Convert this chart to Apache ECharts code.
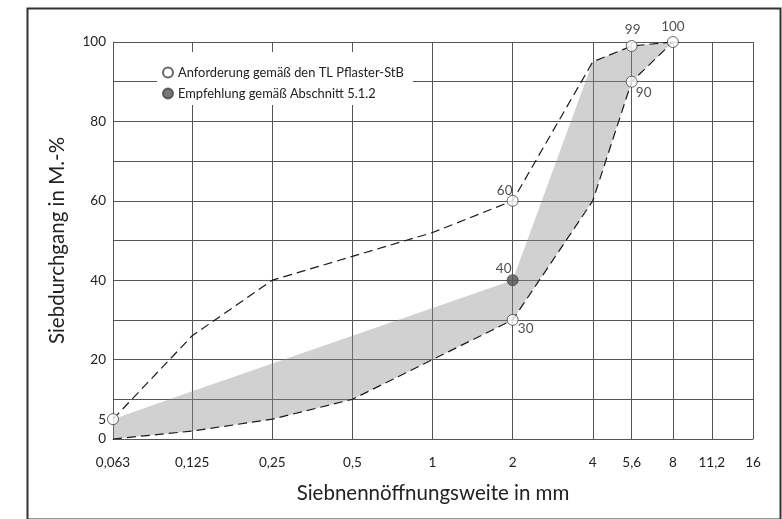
<!DOCTYPE html>
<html><head><meta charset="utf-8">
<script src="https://cdn.jsdelivr.net/npm/echarts@6/dist/echarts.min.js"></script>
<style>html,body{margin:0;padding:0;background:#fff}#c{width:782px;height:519px}</style>
</head><body><div id="c"></div>
<script>
// ---- data ----
const sieveSizes   = [0.063, 0.125, 0.25, 0.5, 1, 2, 4, 5.6, 8];
const xTickValues  = [0.063, 0.125, 0.25, 0.5, 1, 2, 4, 5.6, 8, 11.2, 16];
const xTickLabels  = ['0,063','0,125','0,25','0,5','1','2','4','5,6','8','11,2','16'];
const yTickLabels  = [0, 5, 20, 40, 60, 80, 100];
const upperLimit   = [5, 26, 40, 46, 52, 60, 95, 99, 100];
const lowerLimit   = [0, 2, 5, 10, 20, 30, 60, 90, 100];
const bandUpper    = [5, 12, 19, 26, 33, 40, 95, 99, 100];
const reqSizes     = [0.063, 2, 2, 5.6, 5.6, 8];
const reqValues    = [5, 60, 30, 99, 90, 100];
const recSizes     = [2];
const recValues    = [40];
const reqName = 'Anforderung gemäß den TL Pflaster-StB';
const recName = 'Empfehlung gemäß Abschnitt 5.1.2';

// ---- styling (label placement per point index) ----
const reqLabelOffset = [null, [-8,-10], [13,9], [1,-16], [12,11], [0,-15]];
const recLabelOffset = [[-9,-12]];

const FONT = 'Lato, "Open Sans", sans-serif';
const GRID = '#555';
const zip = (xs, ys) => xs.map((x, i) => [x, ys[i]]);

const chart = echarts.init(document.getElementById('c'), null, {renderer: 'canvas'});
const pointData = (xs, ys, offs) => xs.map((x, i) => ({
  value: [x, ys[i]],
  label: offs[i] ? {show: true, position: 'inside', offset: offs[i], formatter: String(ys[i])} : {show: false}
}));

// band polygon: recommended upper edge forward, lower limit backward
const bandPoints = zip(sieveSizes, bandUpper).concat(zip(sieveSizes, lowerLimit).reverse());

chart.setOption({
  animation: false,
  backgroundColor: '#fff',
  textStyle: {fontFamily: FONT},
  grid: {left: 113, right: 29, top: 42, bottom: 80},
  graphic: [{
    type: 'rect', left: 25, top: 6, z: -10,
    shape: {width: 753, height: 511},
    style: {fill: 'none', stroke: '#333', lineWidth: 2}
  }],
  legend: {
    left: 157, top: 52, orient: 'vertical',
    backgroundColor: '#fff', padding: [14, 9, 5, 5],
    itemWidth: 10, itemHeight: 10, itemGap: 8,
    textStyle: {fontFamily: FONT, fontSize: 12.9, color: '#222'},
    data: [{name: reqName, icon: 'circle'}, {name: recName, icon: 'circle'}]
  },
  xAxis: {
    type: 'log', logBase: 2, min: 0.063, max: 16,
    name: 'Siebnennöffnungsweite in mm', nameLocation: 'middle', nameGap: 44,
    nameTextStyle: {fontFamily: FONT, fontSize: 20.5, color: '#222'},
    axisLine: {show: true, lineStyle: {color: GRID, width: 1}},
    axisTick: {show: false, customValues: xTickValues},
    axisLabel: {
      customValues: xTickValues, margin: 17,
      fontFamily: FONT, fontSize: 13.5, color: '#222',
      formatter: v => { const i = xTickValues.findIndex(t => Math.abs(t - v) < 1e-6); return i >= 0 ? xTickLabels[i] : ''; }
    },
    splitLine: {show: true, lineStyle: {color: GRID, width: 1}}
  },
  yAxis: {
    type: 'value', min: 0, max: 100, interval: 10,
    name: 'Siebdurchgang in M.-%', nameLocation: 'middle', nameGap: 45,
    nameTextStyle: {fontFamily: FONT, fontSize: 20.5, color: '#222'},
    axisLine: {show: true, lineStyle: {color: GRID, width: 1}},
    axisTick: {show: false},
    axisLabel: {customValues: yTickLabels, margin: 7, fontFamily: FONT, fontSize: 13.5, color: '#222'},
    splitLine: {show: true, lineStyle: {color: GRID, width: 1}}
  },
  series: [
    {
      name: 'band', type: 'custom', silent: true, z: 1,
      data: [0],
      renderItem: (params, api) => ({
        type: 'polygon',
        shape: {points: bandPoints.map(p => api.coord(p))},
        style: {fill: 'rgba(140,140,140,0.4)', stroke: 'none'}
      })
    },
    {
      name: 'upperLimit', type: 'line', symbol: 'none', silent: true,
      data: zip(sieveSizes, upperLimit),
      lineStyle: {color: '#1a1a1a', width: 1.2, type: [9, 5]}, z: 2
    },
    {
      name: 'lowerLimit', type: 'line', symbol: 'none', silent: true,
      data: zip(sieveSizes, lowerLimit),
      lineStyle: {color: '#1a1a1a', width: 1.2, type: [9, 5]}, z: 2
    },
    {
      name: reqName, type: 'scatter', symbol: 'circle', symbolSize: 11, z: 5,
      itemStyle: {color: '#fff', borderColor: '#444', borderWidth: 1},
      label: {fontFamily: FONT, fontSize: 13.5, color: '#222'},
      data: pointData(reqSizes, reqValues, reqLabelOffset)
    },
    {
      name: recName, type: 'scatter', symbol: 'circle', symbolSize: 11, z: 5,
      itemStyle: {color: '#555', borderColor: '#444', borderWidth: 1},
      label: {fontFamily: FONT, fontSize: 13.5, color: '#222'},
      data: pointData(recSizes, recValues, recLabelOffset)
    }
  ]
});
</script></body></html>
